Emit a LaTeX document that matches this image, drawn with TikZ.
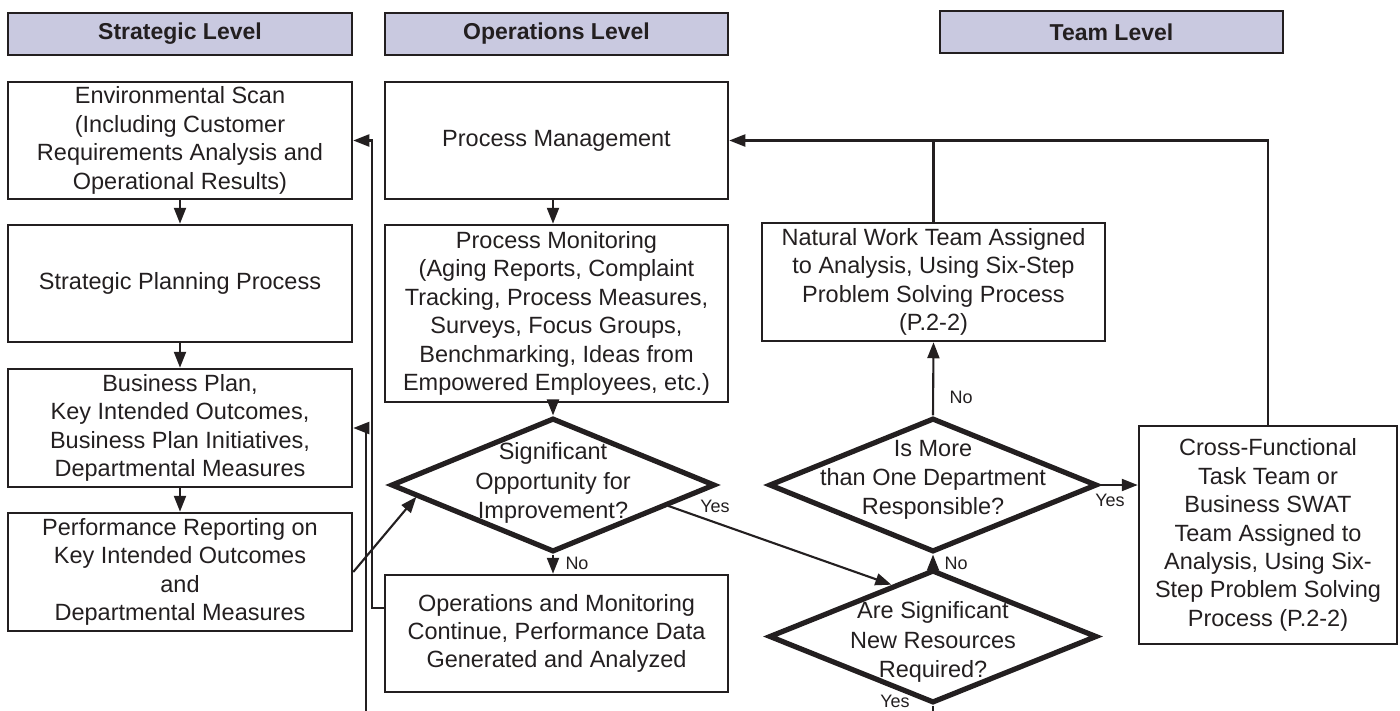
\documentclass[tikz,border=0pt]{standalone}
\usepackage{fontspec}
\setmainfont{Liberation Sans}
\usetikzlibrary{shapes.geometric,arrows.meta,calc}
\definecolor{ink}{HTML}{231F20}
\definecolor{hdr}{HTML}{C9C9E0}
\begin{document}
\begin{tikzpicture}[x=1pt,y=-1pt,
  box/.style={draw=ink,line width=2.5pt,rectangle,inner sep=0pt,align=center,text=ink,font=\fontsize{23.5}{28.4}\selectfont},
  hbox/.style={draw=ink,fill=hdr,line width=2.6pt,rectangle,inner sep=0pt,text=ink,font=\bfseries\fontsize{23}{26}\selectfont},
  dia/.style={draw=ink,diamond,line width=5.2pt,inner sep=0pt},
  dtext/.style={align=center,text=ink,inner sep=0pt,font=\fontsize{23.5}{29.3}\selectfont},
  arr/.style={draw=ink,line width=2.1pt,-{Triangle[length=16pt,width=12pt]}},
  ln/.style={draw=ink,line width=2.1pt},
  lbl/.style={text=ink,inner sep=0pt,font=\fontsize{18}{20}\selectfont}]
\useasboundingbox (0,0) rectangle (1400,710);
% headers
\node[hbox,minimum width=344pt,minimum height=42pt] (hs) at (180,34) {Strategic Level};
\node[hbox,minimum width=343pt,minimum height=42pt] (ho) at (556.5,34) {Operations Level};
\node[hbox,minimum width=343pt,minimum height=42pt] (ht) at (1111.5,32) {Team Level};
% strategic column
\node[box,minimum width=344pt,minimum height=117pt] (env) at (180,140.5) {Environmental Scan\\(Including Customer\\Requirements Analysis and\\Operational Results)};
\node[box,minimum width=344pt,minimum height=117pt] (spp) at (180,283.5) {Strategic Planning Process};
\node[box,minimum width=344pt,minimum height=118pt] (bp) at (180,428) {Business Plan,\\Key Intended Outcomes,\\Business Plan Initiatives,\\Departmental Measures};
\node[box,minimum width=344pt,minimum height=118pt] (pr) at (180,572) {Performance Reporting on\\Key Intended Outcomes\\and\\Departmental Measures};
% operations column
\node[box,minimum width=343pt,minimum height=117pt] (pm) at (556.5,140.5) {Process Management};
\node[box,minimum width=343pt,minimum height=177pt] (mon) at (556.5,313.5) {Process Monitoring\\(Aging Reports, Complaint\\Tracking, Process Measures,\\Surveys, Focus Groups,\\Benchmarking, Ideas from\\Empowered Employees, etc.)};
\node[box,minimum width=343pt,minimum height=117pt] (ops) at (556.5,633.5) {Operations and Monitoring\\Continue, Performance Data\\Generated and Analyzed};
\node[dia,minimum width=324pt,minimum height=134pt] (d1) at (553,485) {};
\node[dtext] (d1t) at (553,483) {Significant\\Opportunity for\\Improvement?};
% team column
\node[box,minimum width=343pt,minimum height=118pt] (nwt) at (933.5,282) {Natural Work Team Assigned\\to Analysis, Using Six-Step\\Problem Solving Process\\(P.2-2)};
\node[dia,minimum width=328pt,minimum height=134pt] (d2) at (933,485) {};
\node[dtext] (d2t) at (933,480) {Is More\\than One Department\\Responsible?};
\node[dia,minimum width=328pt,minimum height=133pt] (d3) at (933,636.5) {};
\node[dtext] (d3t) at (933,642) {Are Significant\\New Resources\\Required?};
\node[box,minimum width=258pt,minimum height=218pt] (cft) at (1268,535) {Cross-Functional\\Task Team or\\Business SWAT\\Team Assigned to\\Analysis, Using Six-\\Step Problem Solving\\Process (P.2-2)};
\coordinate (bot1) at (366,712);
\coordinate (bot2) at (933,712);
% connectors
\draw[arr] (env.south) -- (spp.north);
\draw[arr] (spp.south) -- (bp.north);
\draw[arr] (bp.south) -- (pr.north);
\draw[arr] (pm.south -| d1.north) -- (mon.north -| d1.north);
\draw[arr] (mon.south -| d1.north) -- (d1.north);
\draw[arr] (d1.south) -- (d1.south |- ops.north);
\node[lbl] (no1) at (577,563) {No};
\draw[arr] ([yshift=25.5pt]ops.west) -- ++(-12,0) |- (env.east);
\draw[arr] (bot1) |- (bp.east);
\draw[arr] (pr.east) -- ($(d1.west)!0.17!(d1.south)$);
\draw[arr] ($(d1.east)!0.3!(d1.south)$) -- ($(d3.north)!0.25!(d3.west)$);
\node[lbl] (yes1) at (715,506) {Yes};
\draw[arr] (d3.north) -- (d2.south);
\node[lbl] (no2) at (956,563) {No};
\draw[arr] (d2.north) -- (nwt.south);
\node[lbl] (no3) at (961,397) {No};
\draw[arr] (d2.east) -- (d2.east -| cft.west);
\node[lbl] (yes2) at (1110,500) {Yes};
\draw[ln] (d3.south) -- (bot2);
\node[lbl] (yes3) at (895,701) {Yes};
\draw[arr] (cft.north) |- (pm.east);
\draw[ln] (nwt.north) -- (nwt.north |- pm.east);
\end{tikzpicture}
\end{document}
